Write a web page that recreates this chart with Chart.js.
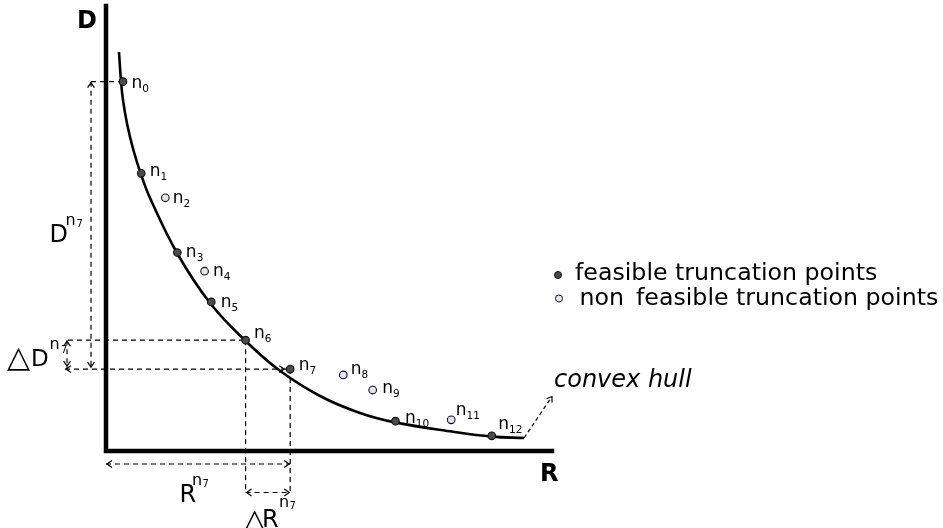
<!DOCTYPE html>
<html><head><meta charset="utf-8">
<script src="https://cdn.jsdelivr.net/npm/chart.js@4.4.1/dist/chart.umd.min.js"></script>
<style>html,body{margin:0;padding:0;background:#fff;}canvas{display:block;}</style>
</head><body>
<canvas id="c" width="943" height="528"></canvas>
<script>
// ---- data (R and D in axis units 0..100) ----
const pointNames = ['0','1','2','3','4','5','6','7','8','9','10','11','12'];
const pointR = [3.8, 7.9, 13.3, 16.0, 22.1, 23.6, 31.3, 41.3, 53.2, 59.8, 64.9, 77.4, 86.5];
const pointD = [83.0, 62.4, 56.9, 44.6, 40.4, 33.5, 24.9, 18.4, 17.1, 13.7, 6.7, 7.0, 3.4];
const feasible = [true, true, false, true, false, true, true, true, false, false, true, false, true];
const hullR = [2.91, 3.36, 3.81, 4.78, 6.14, 7.89, 9.87, 15.92, 23.32, 31.32, 39.01, 47.98, 56.95, 64.80, 77.80, 86.55, 93.72];
const hullD = [89.66, 83.15, 78.88, 73.26, 67.64, 62.02, 56.85, 44.49, 33.26, 24.72, 18.02, 12.36, 8.54, 6.43, 4.34, 3.24, 2.92];
const legendLabels = ['feasible truncation points', 'non feasible truncation points'];
const axisTitles = ['R', 'D'];
const hullLabel = 'convex hull';

// ---- styles ----
const labelDx = [10, 10, 9, 10, 10, 11, 10, 10, 9, 11, 11, 6, 8];
const labelDy = [6, 3, 5, 4, 5, 5, -2, 1, -1, 3, 2, -5, -7];
const FONT = '"DejaVu Sans", sans-serif';
const DARK = '#4a4a4a', LIGHT = '#e4e4f6';

const feasPts = [], nonPts = [];
pointR.forEach((r, i) => (feasible[i] ? feasPts : nonPts).push({x: r, y: pointD[i]}));
const hullPts = hullR.map((r, i) => ({x: r, y: hullD[i]}));

function seg(ctx, x1, y1, x2, y2) { ctx.beginPath(); ctx.moveTo(x1, y1); ctx.lineTo(x2, y2); ctx.stroke(); }
function head(ctx, x, y, ang) {
  const L = 6, a = 0.6;
  ctx.save(); ctx.setLineDash([]);
  ctx.beginPath();
  ctx.moveTo(x - L * Math.cos(ang - a), y - L * Math.sin(ang - a));
  ctx.lineTo(x, y);
  ctx.lineTo(x - L * Math.cos(ang + a), y - L * Math.sin(ang + a));
  ctx.stroke(); ctx.restore();
}

const ann = {
  id: 'ann',
  beforeDatasetsDraw(chart) {
    const {ctx, scales: {x, y}} = chart;
    const X = v => x.getPixelForValue(v), Y = v => y.getPixelForValue(v);
    const x0 = X(0), y0 = Y(0);
    ctx.save();
    ctx.strokeStyle = '#000';
    ctx.lineWidth = 4.5; ctx.lineCap = 'square';
    ctx.beginPath(); ctx.moveTo(x0, Y(100)); ctx.lineTo(x0, y0); ctx.lineTo(X(100), y0); ctx.stroke();

    const p0 = [X(pointR[0]), Y(pointD[0])], p6 = [X(pointR[6]), Y(pointD[6])], p7 = [X(pointR[7]), Y(pointD[7])];
    const xD = x0 - 15, xdD = x0 - 39, yRa = y0 + 13, ydR = y0 + 41.5;
    ctx.lineWidth = 1.2; ctx.lineCap = 'butt'; ctx.setLineDash([5, 4]);
    seg(ctx, xD, p0[1], p0[0] - 3, p0[1]);
    seg(ctx, xD, p0[1], xD, p7[1]);
    head(ctx, xD, p0[1] + 1, -Math.PI / 2); head(ctx, xD, p7[1] - 2, Math.PI / 2);
    seg(ctx, xdD + 1, p6[1], p6[0], p6[1]);
    seg(ctx, xdD - 2, p7[1], p7[0] - 3, p7[1]);
    head(ctx, xdD - 1, p7[1], Math.PI);
    head(ctx, p7[0] - 6, p7[1], 0);
    seg(ctx, xdD, p6[1], xdD, p7[1]);
    head(ctx, xdD, p6[1] + 1, -Math.PI / 2); head(ctx, xdD, p7[1] - 3, Math.PI / 2);
    seg(ctx, p6[0], p6[1], p6[0], ydR);
    seg(ctx, p7[0], p7[1], p7[0], ydR);
    seg(ctx, x0, yRa, p7[0], yRa);
    head(ctx, x0 + 1, yRa, Math.PI); head(ctx, p7[0] - 1, yRa, 0);
    seg(ctx, p6[0], ydR, p7[0], ydR);
    head(ctx, p6[0] + 1, ydR, Math.PI); head(ctx, p7[0] - 1, ydR, 0);
    // convex hull pointer
    const hx = X(hullR[hullR.length - 1]), hy = Y(hullD[hullD.length - 1]);
    ctx.setLineDash([4, 3]);
    seg(ctx, hx, hy, hx + 27, hy - 40);
    head(ctx, hx + 28, hy - 41.5, Math.atan2(-41.5, 28));
    ctx.restore();
  },
  afterDatasetsDraw(chart) {
    const {ctx, scales: {x, y}} = chart;
    const X = v => x.getPixelForValue(v), Y = v => y.getPixelForValue(v);
    const x0 = X(0), y0 = Y(0);
    const p6 = [X(pointR[6]), Y(pointD[6])];
    ctx.save();
    ctx.fillStyle = '#000'; ctx.textBaseline = 'alphabetic'; ctx.textAlign = 'left';
    // point labels
    pointR.forEach((r, i) => {
      const px = X(r) + labelDx[i] - 1.5, py = Y(pointD[i]) + labelDy[i];
      ctx.font = '17px ' + FONT; ctx.fillText('n', px, py);
      const w = ctx.measureText('n').width;
      ctx.font = '10.5px ' + FONT; ctx.fillText(pointNames[i], px + w, py + 4);
    });
    // axis titles
    ctx.font = 'bold 24px ' + FONT;
    ctx.fillText(axisTitles[1], x0 - 29, Y(100) + 22);
    ctx.fillText(axisTitles[0], X(100) - 12, y0 + 30);
    // D^n7
    ctx.font = '24px ' + FONT; ctx.fillText('D', 49.5, 242);
    ctx.font = '16px ' + FONT; ctx.fillText('n', 65.5, 225);
    ctx.font = '10px ' + FONT; ctx.fillText('7', 76.5, 227);
    // ΔD^n7
    ctx.font = '30px ' + FONT; ctx.fillText('\u25B3', 7, 367);
    ctx.font = '23px ' + FONT; ctx.fillText('D', 31, 365.5);
    ctx.font = '16px ' + FONT; ctx.fillText('n', 49.5, 349);
    ctx.font = '10px ' + FONT; ctx.fillText('7', 61, 353);
    // ΔR^n7
    ctx.font = '29px ' + FONT; ctx.fillText('\u25B3', p6[0] - 2, 528.5);
    ctx.font = '24px ' + FONT; ctx.fillText('R', p6[0] + 16.5, 527);
    ctx.font = '16px ' + FONT; ctx.fillText('n', p6[0] + 33.5, 506.5);
    ctx.font = '10px ' + FONT; ctx.fillText('7', p6[0] + 44, 508.5);
    // R^n7
    ctx.font = '24px ' + FONT; ctx.fillText('R', 179.5, 501.7);
    ctx.font = '16px ' + FONT; ctx.fillText('n', 192, 485);
    ctx.font = '10px ' + FONT; ctx.fillText('7', 202.5, 487);
    // convex hull label
    ctx.font = 'italic 24px ' + FONT; ctx.fillText(hullLabel, 554, 386.7);
    // legend
    const lx = 558, ly = [275, 298.5];
    [DARK, LIGHT].forEach((c, i) => {
      ctx.beginPath(); ctx.arc(lx + i, ly[i], 3.5, 0, Math.PI * 2);
      ctx.fillStyle = c; ctx.fill(); ctx.lineWidth = 1; ctx.strokeStyle = '#111'; ctx.stroke();
    });
    ctx.fillStyle = '#000'; ctx.font = '23.7px ' + FONT;
    ctx.fillText(legendLabels[0], 575, 279.5);
    const sp = legendLabels[1].indexOf(' ');
    ctx.fillText(legendLabels[1].slice(0, sp), 579.5, 304.5);
    ctx.fillText(legendLabels[1].slice(sp + 1), 636, 304.5);
    ctx.restore();
  }
};

new Chart(document.getElementById('c'), {
  type: 'scatter',
  data: {
    datasets: [
      {label: 'hull', data: hullPts, showLine: true, tension: 0.4,
       borderColor: '#000', borderWidth: 2.6, pointRadius: 0, fill: false, order: 3},
      {label: legendLabels[0], data: feasPts, pointRadius: 3.8, pointBackgroundColor: DARK,
       pointBorderColor: '#111', pointBorderWidth: 1.1, showLine: false, order: 1},
      {label: legendLabels[1], data: nonPts, pointRadius: 3.8, pointBackgroundColor: LIGHT,
       pointBorderColor: '#111', pointBorderWidth: 1.1, showLine: false, order: 2}
    ]
  },
  options: {
    responsive: false, animation: false, devicePixelRatio: 1,
    layout: {padding: {left: 106, right: 391, top: 6, bottom: 77}},
    scales: {
      x: {type: 'linear', min: 0, max: 100, display: false},
      y: {type: 'linear', min: 0, max: 100, display: false}
    },
    plugins: {legend: {display: false}, tooltip: {enabled: false}},
    events: []
  },
  plugins: [ann]
});
</script>
</body></html>
